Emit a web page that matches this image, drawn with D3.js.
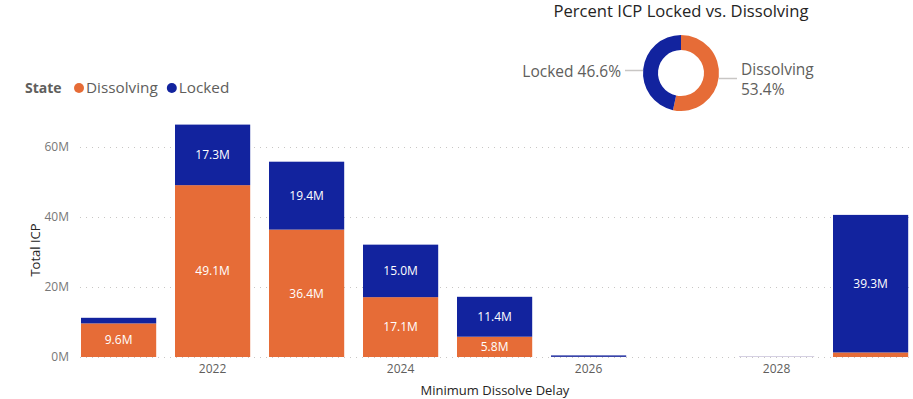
<!DOCTYPE html>
<html>
<head>
<meta charset="utf-8">
<script src="https://cdn.jsdelivr.net/npm/d3@7"></script>
<style>
  body { margin: 0; background: #fff; }
  svg { font-family: "Segoe UI", "Open Sans", "Noto Sans", sans-serif; }
</style>
</head>
<body>
<div id="vis"></div>
<script>
// DATA
const years = ["2021", "2022", "2023", "2024", "2025", "2026", "2027", "2028", "2029"];
const dissolving = [9.6, 49.1, 36.4, 17.1, 5.8, 0.05, 0, 0.02, 1.3];
const locked = [1.6, 17.3, 19.4, 15.0, 11.4, 0.4, 0, 0.05, 39.3];
const tickYears = ["2022", "2024", "2026", "2028"];
const yTicks = [0, 20, 40, 60];
const donutLabels = ["Dissolving", "Locked"];
const donutValues = [53.4, 46.6];

const colors = { Dissolving: "#E66C37", Locked: "#12239E" };

const width = 913, height = 399;
const svg = d3.select("#vis").append("svg")
  .attr("width", width)
  .attr("height", height);

// SCALES
const x = d3.scaleBand()
  .domain(years)
  .range([71.6, 917.6])
  .paddingInner(0.2)
  .paddingOuter(0.1);

const y = d3.scaleLinear()
  .domain([0, 60])
  .range([357, 147]);

// gridlines
svg.append("g").selectAll("line")
  .data(yTicks)
  .join("line")
  .attr("x1", 80).attr("x2", width)
  .attr("y1", d => y(d) + 0.5).attr("y2", d => y(d) + 0.5)
  .attr("stroke", "#c8c6c4")
  .attr("stroke-width", 1)
  .attr("stroke-dasharray", "1,5");

// y tick labels
svg.append("g").selectAll("text")
  .data(yTicks)
  .join("text")
  .attr("x", 69)
  .attr("y", d => y(d))
  .attr("dy", "0.35em")
  .attr("text-anchor", "end")
  .attr("font-size", 12)
  .attr("fill", "#777")
  .text(d => d + "M");

// y title
svg.append("text")
  .attr("transform", "translate(40,250) rotate(-90)")
  .attr("text-anchor", "middle")
  .attr("font-size", 13)
  .attr("fill", "#252423")
  .text("Total ICP");

// stacked bars
const rows = years.map((yr, i) => ({ year: yr, Dissolving: dissolving[i], Locked: locked[i] }));
const stack = d3.stack().keys(["Dissolving", "Locked"])(rows);

const layers = svg.append("g").selectAll("g")
  .data(stack)
  .join("g")
  .attr("fill", d => colors[d.key]);

layers.selectAll("rect")
  .data(d => d.filter(s => s[1] - s[0] > 0))
  .join("rect")
  .attr("x", d => x(d.data.year))
  .attr("width", x.bandwidth())
  .attr("y", d => y(d[1]))
  .attr("height", d => y(d[0]) - y(d[1]));

// data labels
const labels = [];
stack.forEach(layer => layer.forEach(s => {
  if (s[1] - s[0] >= 5) labels.push({ year: s.data.year, v: s[1] - s[0], mid: (s[0] + s[1]) / 2 });
}));
svg.append("g").selectAll("text")
  .data(labels)
  .join("text")
  .attr("x", d => x(d.year) + x.bandwidth() / 2)
  .attr("y", d => y(d.mid))
  .attr("dy", "0.35em")
  .attr("text-anchor", "middle")
  .attr("font-size", 12)
  .attr("fill", "#fff")
  .text(d => d.v.toFixed(1) + "M");

// x ticks
svg.append("g").selectAll("text")
  .data(tickYears)
  .join("text")
  .attr("x", d => x(d) + x.bandwidth() / 2)
  .attr("y", 373)
  .attr("text-anchor", "middle")
  .attr("font-size", 12)
  .attr("fill", "#605e5c")
  .text(d => d);

svg.append("text")
  .attr("x", 495)
  .attr("y", 395)
  .attr("text-anchor", "middle")
  .attr("font-size", 13)
  .attr("fill", "#252423")
  .text("Minimum Dissolve Delay");

// legend
const legend = svg.append("g").attr("transform", "translate(25,93)");
legend.append("text")
  .attr("font-size", 14)
  .attr("font-weight", "bold")
  .attr("fill", "#605e5c")
  .text("State");
let lx = 54;
donutLabels.forEach(k => {
  legend.append("circle").attr("cx", lx).attr("cy", -5).attr("r", 5).attr("fill", colors[k]);
  const t = legend.append("text")
    .attr("x", lx + 7)
    .attr("font-size", 15.3)
    .attr("fill", "#605e5c")
    .text(k);
  lx += 7 + t.node().getComputedTextLength() + 14;
});

// donut
const cx = 681, cy = 73;
svg.append("text")
  .attr("x", cx)
  .attr("y", 17)
  .attr("text-anchor", "middle")
  .attr("font-size", 16.6)
  .attr("fill", "#252423")
  .text("Percent ICP Locked vs. Dissolving");

const pie = d3.pie().sort(null).value(d => d.v)(donutLabels.map((k, i) => ({ k: k, v: donutValues[i] })));
const arc = d3.arc().innerRadius(23).outerRadius(38);
const dg = svg.append("g").attr("transform", `translate(${cx},${cy})`);
dg.selectAll("path")
  .data(pie)
  .join("path")
  .attr("d", arc)
  .attr("fill", d => colors[d.data.k]);

// leader lines and labels
svg.append("line").attr("x1", 625).attr("x2", 643).attr("y1", 70.5).attr("y2", 70.5)
  .attr("stroke", "#c8c6c4").attr("stroke-width", 1.5);
svg.append("line").attr("x1", 719).attr("x2", 737).attr("y1", 78.5).attr("y2", 78.5)
  .attr("stroke", "#c8c6c4").attr("stroke-width", 1.5);

svg.append("text")
  .attr("x", 621).attr("y", 77)
  .attr("text-anchor", "end")
  .attr("font-size", 15.5)
  .attr("fill", "#605e5c")
  .text("Locked " + donutValues[1].toFixed(1) + "%");
svg.append("text")
  .attr("x", 741).attr("y", 75)
  .attr("font-size", 15.5)
  .attr("fill", "#605e5c")
  .text("Dissolving");
svg.append("text")
  .attr("x", 741).attr("y", 95)
  .attr("font-size", 15.5)
  .attr("fill", "#605e5c")
  .text(donutValues[0].toFixed(1) + "%");
</script>
</body>
</html>
